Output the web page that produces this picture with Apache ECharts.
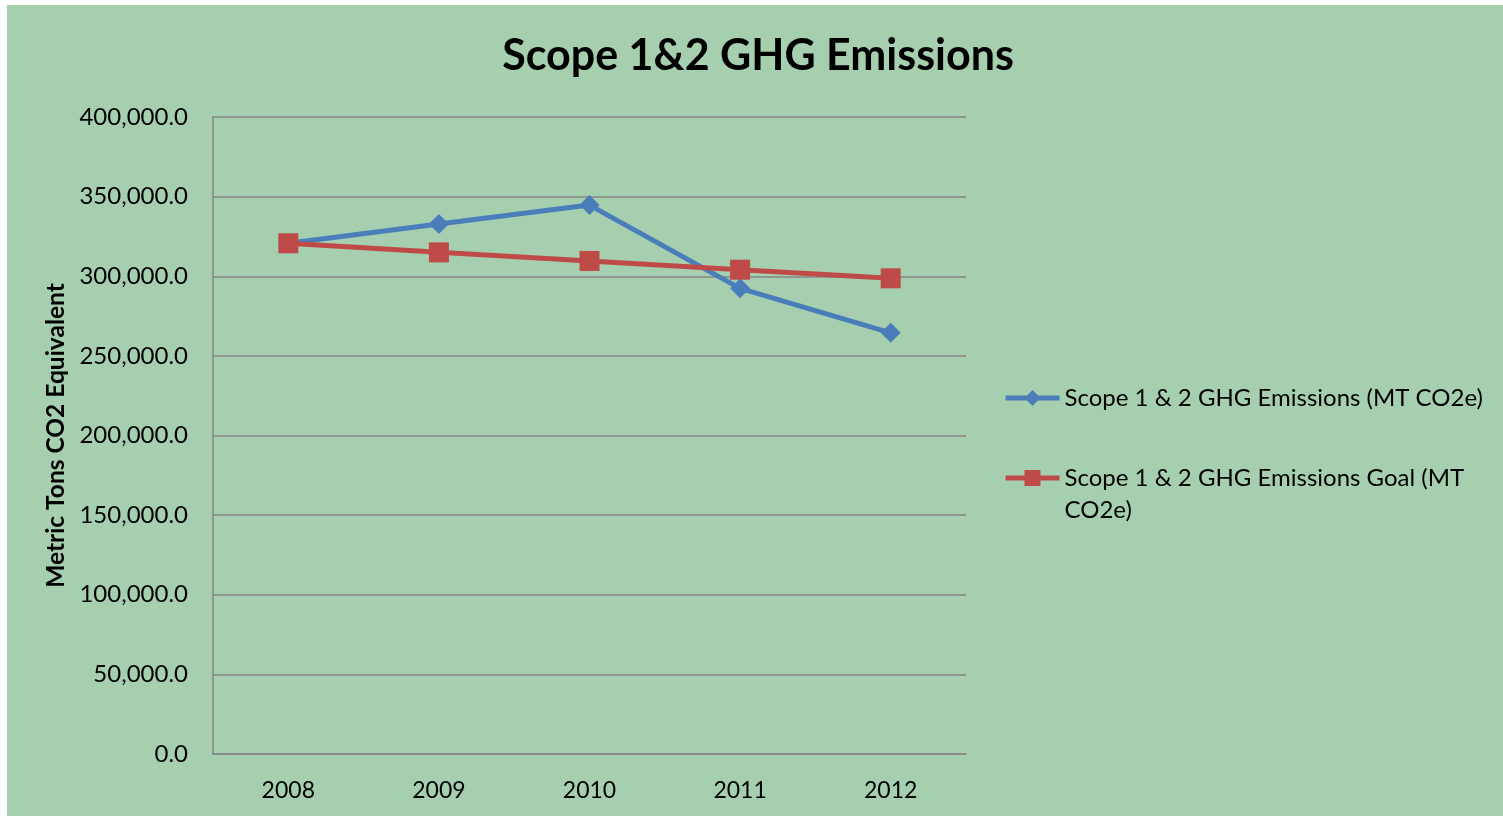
<!DOCTYPE html>
<html>
<head>
<meta charset="utf-8">
<title>Scope 1&2 GHG Emissions</title>
<script src="https://cdn.jsdelivr.net/npm/echarts@6/dist/echarts.min.js"></script>
<style>
  html, body { margin: 0; padding: 0; background: #fff; }
  #chart { position: absolute; left: 7px; top: 5px; width: 1496px; height: 811px; }
</style>
</head>
<body>
<div id="chart"></div>
<script>
// 数据
var years = ['2008', '2009', '2010', '2011', '2012'];
var emissions = [320700, 332800, 344700, 292400, 264500];
var goal = [320700, 315000, 309600, 304100, 298700];
var nameEmissions = 'Scope 1 & 2 GHG Emissions (MT CO2e)';
var nameGoal = 'Scope 1 & 2 GHG Emissions Goal (MT CO2e)';

var font = 'Lato, "Open Sans", sans-serif';
var chart = echarts.init(document.getElementById('chart'));

// 图例文字样式
var legendText = { fontFamily: font, fontSize: 24, color: '#000', lineHeight: 32, width: 425, overflow: 'break' };

var option = {
  backgroundColor: '#a6cfaf',
  textStyle: { fontFamily: font, color: '#000' },
  title: {
    text: 'Scope 1&2 GHG Emissions',
    left: 746,
    textAlign: 'center',
    top: 25,
    textStyle: { fontFamily: font, fontSize: 43, fontWeight: 'bold', color: '#000' }
  },
  legend: [
    {
      orient: 'vertical',
      left: 996,
      top: 377,
      padding: 0,
      itemWidth: 54,
      itemHeight: 20,
      lineStyle: { width: 5 },
      data: [nameEmissions],
      textStyle: legendText
    },
    {
      orient: 'vertical',
      left: 996,
      top: 425,
      padding: 0,
      itemWidth: 54,
      itemHeight: 20,
      lineStyle: { width: 5 },
      data: [nameGoal],
      // 空的第一行让图标对齐第一行文字
      formatter: function (name) { return '\n' + name; },
      textStyle: legendText
    }
  ],
  grid: { left: 206, top: 112, right: 537, bottom: 62 },
  xAxis: {
    type: 'category',
    data: years,
    axisLine: { lineStyle: { color: '#868686', width: 1.5 } },
    axisTick: { show: false },
    axisLabel: { fontFamily: font, fontSize: 23, color: '#000', margin: 25 }
  },
  yAxis: {
    type: 'value',
    min: 0,
    max: 400000,
    interval: 50000,
    name: 'Metric Tons CO2 Equivalent',
    nameLocation: 'middle',
    nameGap: 142,
    nameTextStyle: { fontFamily: font, fontSize: 24.5, fontWeight: 'bold', color: '#000' },
    axisLine: { show: true, lineStyle: { color: '#868686', width: 1.5 } },
    axisTick: { show: false },
    splitLine: { lineStyle: { color: '#868686', width: 1.5 } },
    axisLabel: {
      fontFamily: font, fontSize: 24, color: '#000', margin: 25,
      formatter: function (v) {
        return v.toLocaleString('en-US', { minimumFractionDigits: 1, maximumFractionDigits: 1 });
      }
    }
  },
  series: [
    {
      name: nameEmissions,
      type: 'line',
      data: emissions,
      symbol: 'diamond',
      symbolSize: 20,
      lineStyle: { color: '#4a7ebb', width: 5 },
      itemStyle: { color: '#4a7ebb' },
      z: 2
    },
    {
      name: nameGoal,
      type: 'line',
      data: goal,
      symbol: 'rect',
      symbolSize: 20,
      lineStyle: { color: '#be4b48', width: 5 },
      itemStyle: { color: '#be4b48' },
      z: 3
    }
  ]
};

chart.setOption(option);
</script>
</body>
</html>
